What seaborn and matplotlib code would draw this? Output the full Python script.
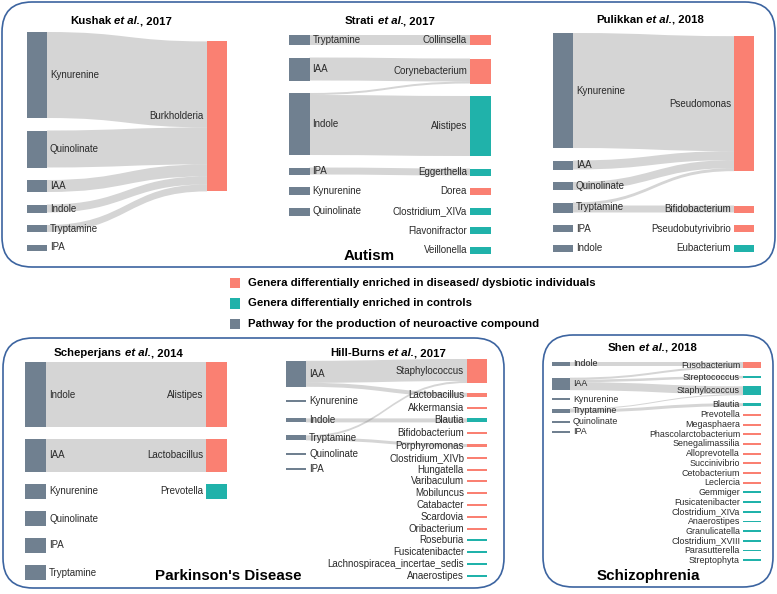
import matplotlib
matplotlib.use("Agg")
import matplotlib.pyplot as plt
import seaborn as sns
import pandas as pd
from matplotlib.path import Path
from matplotlib.patches import PathPatch, FancyBboxPatch
from matplotlib.offsetbox import TextArea, HPacker, AnnotationBbox

# ---------------------------------------------------------------- data
legend_labels = ["Genera differentially enriched in diseased/ dysbiotic individuals",
                 "Genera differentially enriched in controls",
                 "Pathway for the production of neuroactive compound"]
legend_groups = ["disease", "control", "pathway"]

disease_labels = ["Autism", "Parkinson's Disease", "Schizophrenia"]

# Kushak et al., 2017
kushak_left = ["Kynurenine", "Quinolinate", "IAA", "Indole", "Tryptamine", "IPA"]
kushak_left_vals = [86, 37, 12, 8, 7, 6]
kushak_right = ["Burkholderia"]
kushak_right_vals = [150]
kushak_right_group = ["disease"]
kushak_links = [("Kynurenine", "Burkholderia", 86), ("Quinolinate", "Burkholderia", 37),
                ("IAA", "Burkholderia", 12), ("Indole", "Burkholderia", 8),
                ("Tryptamine", "Burkholderia", 7)]

# Strati et al., 2017
strati_left = ["Tryptamine", "IAA", "Indole", "IPA", "Kynurenine", "Quinolinate"]
strati_left_vals = [10, 23, 62, 7, 8, 8]
strati_right = ["Collinsella", "Corynebacterium", "Alistipes", "Eggerthella", "Dorea",
                "Clostridium_XIVa", "Flavonifractor", "Veillonella"]
strati_right_vals = [10, 25, 60, 7, 7, 7, 7, 7]
strati_right_group = ["disease", "disease", "control", "control", "disease",
                      "control", "control", "control"]
strati_links = [("Tryptamine", "Collinsella", 10), ("IAA", "Corynebacterium", 23),
                ("Indole", "Corynebacterium", 2), ("Indole", "Alistipes", 60),
                ("IPA", "Eggerthella", 7)]

# Pulikkan et al., 2018
pulikkan_left = ["Kynurenine", "IAA", "Quinolinate", "Tryptamine", "IPA", "Indole"]
pulikkan_left_vals = [115, 9, 8, 10, 7, 7]
pulikkan_right = ["Pseudomonas", "Bifidobacterium", "Pseudobutyrivibrio", "Eubacterium"]
pulikkan_right_vals = [135, 7, 7, 7]
pulikkan_right_group = ["disease", "disease", "disease", "control"]
pulikkan_links = [("Kynurenine", "Pseudomonas", 115), ("IAA", "Pseudomonas", 9),
                  ("Quinolinate", "Pseudomonas", 8), ("Tryptamine", "Pseudomonas", 3),
                  ("Tryptamine", "Bifidobacterium", 7)]

# Scheperjans et al., 2014
scheper_left = ["Indole", "IAA", "Kynurenine", "Quinolinate", "IPA", "Tryptamine"]
scheper_left_vals = [65, 33, 15, 15, 15, 15]
scheper_right = ["Alistipes", "Lactobacillus", "Prevotella"]
scheper_right_vals = [65, 33, 15]
scheper_right_group = ["disease", "disease", "control"]
scheper_links = [("Indole", "Alistipes", 65), ("IAA", "Lactobacillus", 33)]

# Hill-Burns et al., 2017
hill_left = ["IAA", "Kynurenine", "Indole", "Tryptamine", "Quinolinate", "IPA"]
hill_left_vals = [26, 2, 4, 5, 2, 2]
hill_right = ["Staphylococcus", "Lactobacillus", "Akkermansia", "Blautia", "Bifidobacterium",
              "Porphyromonas", "Clostridium_XIVb", "Hungatella", "Varibaculum", "Mobiluncus",
              "Catabacter", "Scardovia", "Oribacterium", "Roseburia", "Fusicatenibacter",
              "Lachnospiracea_incertae_sedis", "Anaerostipes"]
hill_right_vals = [24, 4, 2, 4, 2, 3, 2, 2, 2, 2, 2, 2, 2, 2, 2, 2, 2]
hill_right_group = ["disease", "disease", "disease", "control", "disease", "disease",
                    "disease", "disease", "disease", "disease", "disease", "disease",
                    "disease", "control", "control", "control", "control"]
hill_links = [("IAA", "Staphylococcus", 22), ("IAA", "Lactobacillus", 4),
              ("Indole", "Blautia", 4), ("Tryptamine", "Staphylococcus", 2),
              ("Tryptamine", "Porphyromonas", 3)]

# Shen et al., 2018
shen_left = ["Indole", "IAA", "Kynurenine", "Tryptamine", "Quinolinate", "IPA"]
shen_left_vals = [4, 12.5, 1.8, 4, 1.8, 1.8]
shen_right = ["Fusobacterium", "Streptococcus", "Staphylococcus", "Blautia", "Prevotella",
              "Megasphaera", "Phascolarctobacterium", "Senegalimassilia", "Alloprevotella",
              "Succinivibrio", "Cetobacterium", "Leclercia", "Gemmiger", "Fusicatenibacter",
              "Clostridium_XIVa", "Anaerostipes", "Granulicatella", "Clostridium_XVIII",
              "Parasutterella", "Streptophyta"]
shen_right_vals = [6, 2.5, 9, 3] + [1.8] * 16
shen_right_group = ["disease", "control", "control", "control"] + ["disease"] * 8 + ["control"] * 8
shen_links = [("Indole", "Fusobacterium", 4), ("IAA", "Fusobacterium", 2),
              ("IAA", "Streptococcus", 2.5), ("IAA", "Staphylococcus", 8),
              ("Tryptamine", "Staphylococcus", 1), ("Tryptamine", "Blautia", 3)]

# ---------------------------------------------------------------- style
sns.set_theme(style="white")
plt.rcParams["font.family"] = ["Liberation Sans", "DejaVu Sans"]
palette = {"disease": "#FA8072", "control": "#20B2AA", "pathway": "#708090"}
LINK_COLOR = "#808080"
BORDER = "#3c64a0"
TXT = "#2a2a2a"

fig = plt.figure(figsize=(7.77, 5.94), dpi=100)
ax = fig.add_axes([0, 0, 1, 1])

panels = [
    dict(author="Kushak", year="2017", left=kushak_left, lv=kushak_left_vals,
         right=kushak_right, rv=kushak_right_vals, rg=kushak_right_group, links=kushak_links,
         lx=27, rx=207, w=20, top=32, gap=12.5, anchor="left", tx=121, ty=21, fs=7),
    dict(author="Strati", year="2017", left=strati_left, lv=strati_left_vals,
         right=strati_right, rv=strati_right_vals, rg=strati_right_group, links=strati_links,
         lx=289, rx=470, w=20.5, top=35, gap=12.5, anchor="left", tx=390, ty=21, fs=7),
    dict(author="Pulikkan", year="2018", left=pulikkan_left, lv=pulikkan_left_vals,
         right=pulikkan_right, rv=pulikkan_right_vals, rg=pulikkan_right_group,
         links=pulikkan_links, lx=553, rx=734, w=20, top=33, gap=12.5, anchor="left",
         tx=650, ty=20, fs=7),
    dict(author="Scheperjans", year="2014", left=scheper_left, lv=scheper_left_vals,
         right=scheper_right, rv=scheper_right_vals, rg=scheper_right_group,
         links=scheper_links, lx=25, rx=206, w=21, top=362, gap=12, anchor="left",
         tx=118, ty=353, fs=7),
    dict(author="Hill-Burns", year="2017", left=hill_left, lv=hill_left_vals,
         right=hill_right, rv=hill_right_vals, rg=hill_right_group, links=hill_links,
         lx=286, rx=467, w=20, top=359, gap=9.8, lgap=13, anchor="right",
         tx=388, ty=353, fs=7),
    dict(author="Shen", year="2018", left=shen_left, lv=shen_left_vals,
         right=shen_right, rv=shen_right_vals, rg=shen_right_group, links=shen_links,
         lx=552, rx=743, w=18, top=362, gap=7.88, lgap=8.3, anchor="right",
         tx=652, ty=348, fs=6.4),
]


def stack(vals, top, gap):
    out, y = [], top
    for v in vals:
        out.append(y)
        y += v + gap
    return out


def draw_panel(p):
    L, R, links = p["left"], p["right"], p["links"]
    li = {n: i for i, n in enumerate(L)}
    ri = {n: i for i, n in enumerate(R)}
    out_off, in_off = {}, {}
    for n in L:
        acc = 0
        for k in sorted([k for k in links if k[0] == n], key=lambda k: ri[k[1]]):
            out_off[(k[0], k[1])] = acc
            acc += k[2]
    for n in R:
        acc = 0
        for k in sorted([k for k in links if k[1] == n], key=lambda k: li[k[0]]):
            in_off[(k[0], k[1])] = acc
            acc += k[2]

    def relax(names, vals, side, other_y0, gap):
        res, prev = [], None
        for n, v in zip(names, vals):
            ls = [k for k in links if k[side] == n]
            if ls:
                tot = sum(k[2] for k in ls)
                if side == 1:
                    ideal = sum(k[2] * (other_y0[li[k[0]]] + out_off[(k[0], k[1])]
                                        - in_off[(k[0], k[1])]) for k in ls) / tot
                else:
                    ideal = sum(k[2] * (other_y0[ri[k[1]]] + in_off[(k[0], k[1])]
                                        - out_off[(k[0], k[1])]) for k in ls) / tot
            else:
                ideal = p["top"] if prev is None else prev + gap
            if prev is not None:
                ideal = max(ideal, prev + gap)
            res.append(ideal)
            prev = ideal + v
        return res

    if p["anchor"] == "left":
        ly0 = stack(p["lv"], p["top"], p["gap"])
        ry0 = relax(R, p["rv"], 1, ly0, p["gap"])
    else:
        ry0 = stack(p["rv"], p["top"], p["gap"])
        ly0 = relax(L, p["lv"], 0, ry0, p.get("lgap", p["gap"]))

    lx, rx, w = p["lx"], p["rx"], p["w"]
    # links
    for s, t, v in links:
        ys0 = ly0[li[s]] + out_off[(s, t)]
        ys1 = ys0 + v
        yt0 = ry0[ri[t]] + in_off[(s, t)]
        yt1 = yt0 + v
        x0, x1 = lx + w, rx
        xm = (x0 + x1) / 2
        verts = [(x0, ys0), (xm, ys0), (xm, yt0), (x1, yt0), (x1, yt1),
                 (xm, yt1), (xm, ys1), (x0, ys1), (x0, ys0)]
        codes = [Path.MOVETO, Path.CURVE4, Path.CURVE4, Path.CURVE4, Path.LINETO,
                 Path.CURVE4, Path.CURVE4, Path.CURVE4, Path.CLOSEPOLY]
        ax.add_patch(PathPatch(Path(verts, codes), facecolor=LINK_COLOR, alpha=0.33,
                               edgecolor="none", zorder=1))
    # nodes
    ax.bar([lx] * len(L), p["lv"], bottom=ly0, width=w, align="edge",
           color=palette["pathway"], linewidth=0, zorder=2)
    ax.bar([rx] * len(R), p["rv"], bottom=ry0, width=w, align="edge",
           color=[palette[g] for g in p["rg"]], linewidth=0, zorder=2)
    for n, y, v in zip(L, ly0, p["lv"]):
        ax.text(lx + w + 3, y + v / 2, n, ha="left", va="center", fontsize=p["fs"],
                color=TXT, zorder=3)
    for n, y, v in zip(R, ry0, p["rv"]):
        ax.text(rx - 3, y + v / 2, n, ha="right", va="center", fontsize=p["fs"],
                color=TXT, zorder=3)
    # title
    tfs = 8.2
    a = TextArea(p["author"], textprops=dict(fontweight="bold", fontsize=tfs, color="black"))
    b = TextArea("et al.", textprops=dict(fontweight="bold", fontstyle="italic",
                                          fontsize=tfs, color="black"))
    c = TextArea(", " + p["year"], textprops=dict(fontweight="bold", fontsize=tfs,
                                                  color="black"))
    inner = HPacker(children=[a, b], sep=tfs * 0.278, pad=0, align="baseline")
    box = HPacker(children=[inner, c], sep=0, pad=0, align="baseline")
    ab = AnnotationBbox(box, (p["tx"], p["ty"]), xycoords="data", frameon=False,
                        box_alignment=(0.5, 0.5), pad=0)
    ax.add_artist(ab)


# panel borders
for (x0, y0, x1, y1) in [(2, 2, 775, 267), (3, 338, 504, 588), (543, 335, 773, 587)]:
    ax.add_patch(FancyBboxPatch((x0, y0), x1 - x0, y1 - y0,
                                boxstyle="round,pad=0,rounding_size=30",
                                facecolor="none", edgecolor=BORDER, linewidth=1.2, zorder=0))

for p in panels:
    draw_panel(p)

# disease labels
for lab, (x, y) in zip(disease_labels, [(369, 260), (228.5, 580), (648.5, 580)]):
    ax.text(x, y, lab, ha="center", va="baseline", fontsize=10.9, fontweight="bold",
            color="black")

# legend
leg = pd.DataFrame({"label": legend_labels, "group": legend_groups})
leg["x"] = 235
leg["y"] = [283 + 20.5 * i for i in range(len(leg))]
sns.scatterplot(data=leg, x="x", y="y", hue="group", palette=palette, marker="s", s=52,
                edgecolor="none", legend=False, ax=ax, zorder=3)
for _, r in leg.iterrows():
    ax.text(r["x"] + 13, r["y"], r["label"], ha="left", va="center", fontsize=8.2,
            fontweight="bold", color="black")

ax.set_xlim(0, 777)
ax.set_ylim(594, 0)
ax.axis("off")
fig.savefig("out.png", dpi=100)
